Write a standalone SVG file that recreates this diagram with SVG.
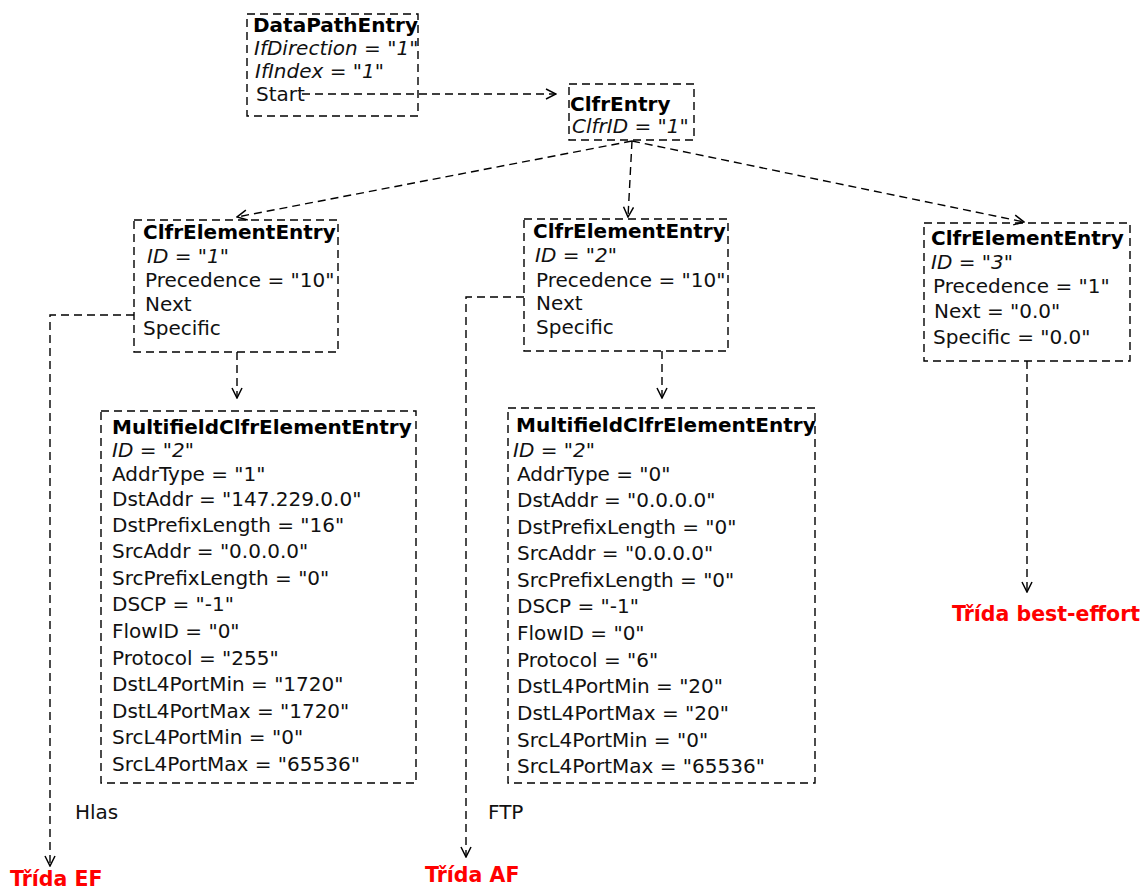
<svg xmlns="http://www.w3.org/2000/svg" width="1145" height="892" viewBox="0 0 1145 892">
<defs>
<style>
.box{fill:none;stroke:#000;stroke-width:1.4;stroke-dasharray:8,5}
.ln{fill:none;stroke:#000;stroke-width:1.4;stroke-dasharray:8,5}
text{font-family:"DejaVu Sans","Liberation Sans",sans-serif;font-size:20px;fill:#111}
.t{font-weight:bold;fill:#000}
.i{font-style:italic}
.red{font-weight:bold;fill:#ff0000;font-size:20.5px}
</style>
<marker id="arr" viewBox="0 0 12 12" refX="11" refY="6" markerWidth="12" markerHeight="12" markerUnits="userSpaceOnUse" orient="auto">
<path d="M1,1 L11,6 L1,11" fill="none" stroke="#000" stroke-width="1.5"/>
</marker>
</defs>
<rect width="1145" height="892" fill="#fff"/>

<g id="DataPathEntry">
<rect class="box" x="247" y="14" width="171" height="102"/>
<text class="t" x="253" y="32">DataPathEntry</text>
<text class="i" x="254" y="55">IfDirection = "1"</text>
<text class="i" x="255" y="78">IfIndex = "1"</text>
<text x="256" y="101">Start</text>
</g>

<g id="ClfrEntry">
<rect class="box" x="569" y="84" width="125" height="56"/>
<text class="t" x="570" y="111">ClfrEntry</text>
<text class="i" x="572" y="133">ClfrID = "1"</text>
</g>

<g id="ClfrElementEntry1">
<rect class="box" x="134" y="220" width="204" height="132"/>
<text class="t" x="143" y="239">ClfrElementEntry</text>
<text class="i" x="147" y="263">ID = "1"</text>
<text x="145" y="287">Precedence = "10"</text>
<text x="145" y="311">Next</text>
<text x="143" y="335">Specific</text>
</g>

<g id="ClfrElementEntry2">
<rect class="box" x="524" y="219" width="204" height="132"/>
<text class="t" x="533" y="238">ClfrElementEntry</text>
<text class="i" x="535" y="262">ID = "2"</text>
<text x="536" y="287">Precedence = "10"</text>
<text x="536" y="310">Next</text>
<text x="536" y="334">Specific</text>
</g>

<g id="ClfrElementEntry3">
<rect class="box" x="924" y="223" width="206" height="138"/>
<text class="t" x="931" y="245">ClfrElementEntry</text>
<text class="i" x="931" y="269">ID = "3"</text>
<text x="933" y="293">Precedence = "1"</text>
<text x="934" y="318">Next = "0.0"</text>
<text x="933" y="344">Specific = "0.0"</text>
</g>

<g id="MultifieldClfrElementEntry1">
<rect class="box" x="101" y="411" width="315" height="372"/>
<text class="t" x="112" y="434">MultifieldClfrElementEntry</text>
<text class="i" x="112" y="457">ID = "2"</text>
<text x="112" y="481">AddrType = "1"</text>
<text x="112" y="506">DstAddr = "147.229.0.0"</text>
<text x="112" y="532">DstPrefixLength = "16"</text>
<text x="112" y="558">SrcAddr = "0.0.0.0"</text>
<text x="112" y="585">SrcPrefixLength = "0"</text>
<text x="112" y="611">DSCP = "-1"</text>
<text x="112" y="638">FlowID = "0"</text>
<text x="112" y="665">Protocol = "255"</text>
<text x="112" y="691">DstL4PortMin = "1720"</text>
<text x="112" y="718">DstL4PortMax = "1720"</text>
<text x="112" y="744">SrcL4PortMin = "0"</text>
<text x="112" y="771">SrcL4PortMax = "65536"</text>
</g>

<g id="MultifieldClfrElementEntry2">
<rect class="box" x="508" y="408" width="307" height="375"/>
<text class="t" x="516" y="432">MultifieldClfrElementEntry</text>
<text class="i" x="513" y="457">ID = "2"</text>
<text x="517" y="481">AddrType = "0"</text>
<text x="517" y="507">DstAddr = "0.0.0.0"</text>
<text x="517" y="534">DstPrefixLength = "0"</text>
<text x="517" y="560">SrcAddr = "0.0.0.0"</text>
<text x="517" y="587">SrcPrefixLength = "0"</text>
<text x="517" y="613">DSCP = "-1"</text>
<text x="517" y="640">FlowID = "0"</text>
<text x="517" y="667">Protocol = "6"</text>
<text x="517" y="693">DstL4PortMin = "20"</text>
<text x="517" y="720">DstL4PortMax = "20"</text>
<text x="517" y="747">SrcL4PortMin = "0"</text>
<text x="517" y="773">SrcL4PortMax = "65536"</text>
</g>

<g id="connectors">
<path class="ln" d="M302,94 L556,94" marker-end="url(#arr)"/>
<path class="ln" d="M632,141 L237,217" marker-end="url(#arr)"/>
<path class="ln" d="M632,141 L628,217" marker-end="url(#arr)"/>
<path class="ln" d="M632,141 L1024,222" marker-end="url(#arr)"/>
<path class="ln" d="M237,352 L237,398" marker-end="url(#arr)"/>
<path class="ln" d="M662,351 L662,398" marker-end="url(#arr)"/>
<path class="ln" d="M134,315 L50,315 L50,866" marker-end="url(#arr)"/>
<path class="ln" d="M524,297 L466,297 L466,857" marker-end="url(#arr)"/>
<path class="ln" d="M1027,361 L1027,592" marker-end="url(#arr)"/>
</g>

<g id="labels">
<text x="75" y="819">Hlas</text>
<text x="488" y="819">FTP</text>
<text class="red" x="10" y="886">Třída EF</text>
<text class="red" x="425" y="882">Třída AF</text>
<text class="red" x="952" y="621">Třída best-effort</text>
</g>
</svg>
